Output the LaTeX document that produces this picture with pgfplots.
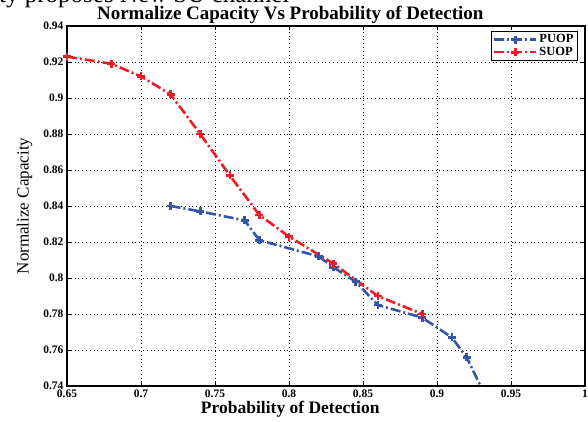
\documentclass[border=0pt]{standalone}
\usepackage{fontspec}
\setmainfont{Liberation Serif}
\usepackage{pgfplots}
\pgfplotsset{compat=1.18}
\definecolor{puopBlue}{HTML}{3456A8}
\definecolor{suopRed}{HTML}{EC1C24}

\begin{document}
\begin{tikzpicture}
% fix the page to the reference frame (pt = px)
\useasboundingbox (-67pt,-35pt) rectangle (521pt,386pt);
\node[anchor=base west, font=\fontsize{25}{27}\selectfont, inner sep=0pt] at (-68pt,383pt) {ty proposes New SU channel};
\begin{axis}[
    scale only axis,
    width=518pt,
    height=360pt,
    xmin=0.65, xmax=1,
    ymin=0.74, ymax=0.94,
    xtick={0.65,0.7,0.75,0.8,0.85,0.9,0.95,1},
    ytick={0.74,0.76,0.78,0.8,0.82,0.84,0.86,0.88,0.9,0.92,0.94},
    /pgf/number format/.cd, fixed, precision=2, assume math mode=true,
    /pgfplots/.cd,
    tick label style={font=\fontsize{11.5}{13}\selectfont\bfseries},
    xticklabel style={yshift=-0.5pt},
    tick align=inside,
    major tick length=4pt,
    axis line style={black, line width=1.2pt},
    every tick/.style={black, line width=0.8pt},
    grid=major,
    major grid style={black, dash pattern=on 0.8pt off 3pt, line width=0.6pt},
    every axis title shift=0pt,
    title={Normalize Capacity Vs Probability of Detection},
    title style={font=\fontsize{19}{21}\selectfont\bfseries, at={(axis description cs:0.431,1.019)}, anchor=base},
    xlabel={Probability of Detection},
    xlabel style={font=\fontsize{17.5}{19}\selectfont\bfseries, at={(axis description cs:0.431,-0.076)}, anchor=base},
    ylabel={Normalize Capacity},
    ylabel style={font=\fontsize{17}{19}\selectfont, at={(axis description cs:-0.082,0.5)}, anchor=center},
    legend style={at={(axis description cs:0.9865,0.986)}, anchor=north east,
        draw=black, line width=1.2pt, font=\fontsize{12.5}{14}\selectfont\bfseries,
        inner xsep=2pt, inner ysep=1pt, row sep=-1pt},
    legend cell align=left,
    legend image code/.code={\draw[mark repeat=2, mark phase=2, #1] plot coordinates {(0pt,0pt) (21pt,0pt) (42pt,0pt)};},
    legend image post style={line width=2.2pt},
]
\addplot[color=puopBlue, line width=2.6pt, dash pattern=on 10pt off 3pt on 2pt off 3pt,
    mark=+, mark size=4pt, mark options={solid, line width=2.6pt}] coordinates {
    (0.72,0.840) (0.74,0.837) (0.77,0.832) (0.78,0.821) (0.82,0.812) (0.83,0.806)
    (0.845,0.798) (0.86,0.785) (0.89,0.778) (0.91,0.767) (0.92,0.756) (0.93,0.739)
};
\addlegendentry{PUOP}
\addplot[color=suopRed, line width=2.6pt, dash pattern=on 10pt off 3pt on 2pt off 3pt,
    mark=+, mark size=4pt, mark options={solid, line width=2.6pt}] coordinates {
    (0.65,0.923) (0.68,0.919) (0.70,0.912) (0.72,0.902) (0.74,0.880) (0.76,0.857)
    (0.78,0.835) (0.80,0.823) (0.83,0.808) (0.86,0.790) (0.89,0.780)
};
\addlegendentry{SUOP}
\end{axis}
\end{tikzpicture}
\end{document}
